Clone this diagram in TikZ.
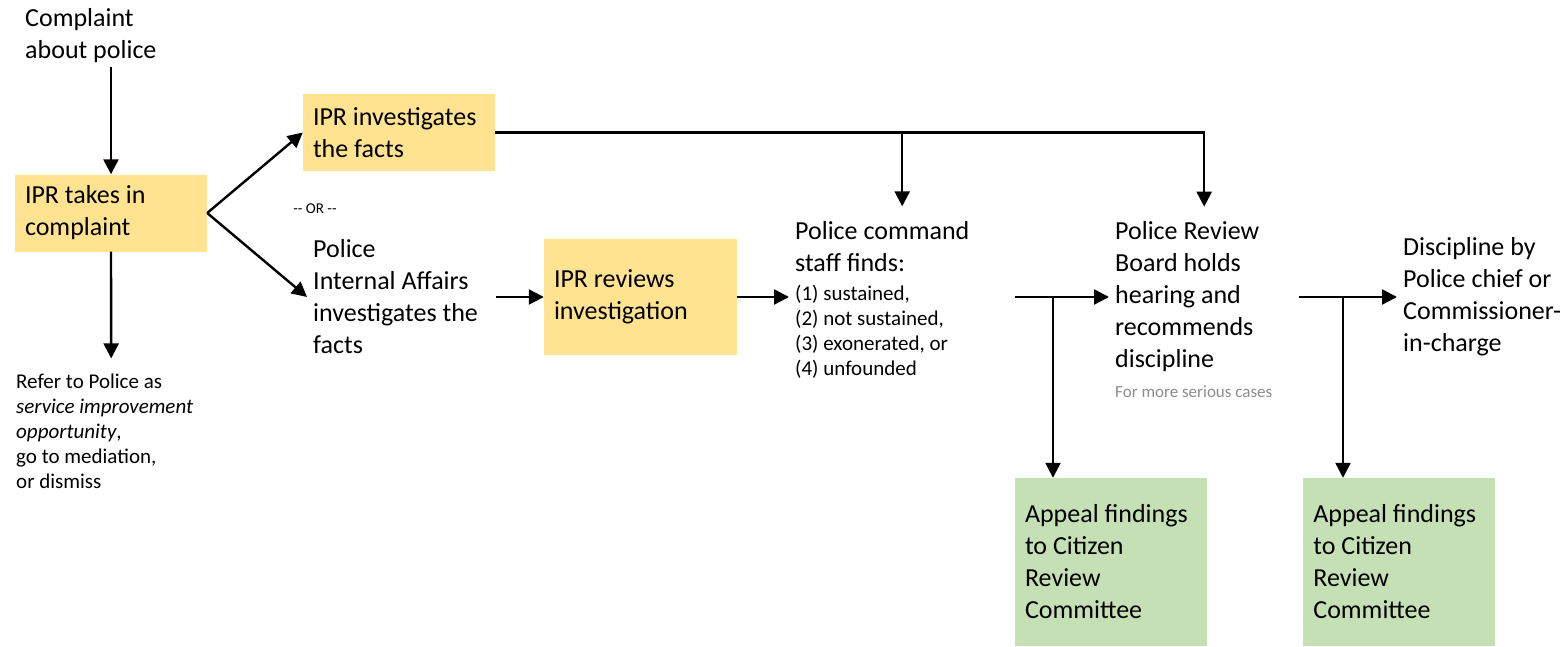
\documentclass[tikz,border=0pt]{standalone}
\usepackage{fontspec}
\setmainfont{Carlito}
\usepackage{xcolor}
\usetikzlibrary{positioning,arrows.meta}
\definecolor{iprfill}{HTML}{FFE391}
\definecolor{appealfill}{HTML}{C5E0B4}
\definecolor{notegray}{HTML}{8C8C8C}
\newcommand{\bigf}{\fontsize{26}{32}\selectfont}
\newcommand{\smallf}{\fontsize{21}{25}\selectfont}
\newcommand{\notef}{\fontsize{17}{20}\selectfont}
\newcommand{\orf}{\fontsize{15}{18}\selectfont}

\begin{document}
\begin{tikzpicture}[x=1pt,y=-1pt,
    flow/.style={draw,line width=2.4pt,-{Triangle[length=15pt,width=15pt]}},
    txt/.style={align=flush left,inner xsep=6pt,inner ysep=15pt,font=\bigf},
    iprbox/.style={fill=iprfill,align=flush left,text width=172pt,inner xsep=10pt,minimum height=77pt,font=\bigf},
    appealbox/.style={fill=appealfill,align=flush left,text width=172pt,inner xsep=10pt,minimum height=168pt,font=\bigf}]
    \useasboundingbox (0,0) rectangle (1567,646);
    % intake
    \node[txt,inner ysep=4pt,text width=172pt,anchor=west] (complaint) at (19,36) {Complaint\\about police};
    \node[iprbox] (intake) at (111,213) {IPR takes in\\complaint};
    \node[txt,text width=190pt,anchor=west,font=\smallf] (refer) at (10,431)
      {Refer to Police as\\\textit{service improvement}\\\textit{opportunity},\\go to mediation,\\or dismiss};
    % two ways to investigate
    \node[iprbox] (iprinv) at (399,132.5) {IPR investigates\\the facts};
    \node[font=\orf,inner sep=0pt] (ortext) at (315,209) {-\kern0pt- OR -\kern0pt-};
    \node[txt,text width=177pt,anchor=west] (iainv) at (307,297) {Police\\Internal Affairs\\investigates the\\facts};
    \node[iprbox,text width=173pt,minimum height=116pt] (iprrev) at (640.5,297) {IPR reviews\\investigation};
    % findings and discipline
    \node[txt,text width=214pt,anchor=west] (findings) at (789,300)
      {Police command\\staff finds:\par\vspace{4pt}\smallf (1) sustained,\\(2) not sustained,\\(3) exonerated, or\\(4) unfounded\par};
    \node[txt,text width=178pt,anchor=west] (prb) at (1109,297) {Police Review\\Board holds\\hearing and\\recommends\\discipline};
    \node[anchor=west,inner sep=0pt,font=\notef,text=notegray] (prbnote) at (1115,392) {For more serious cases};
    \node[txt,text width=160pt,anchor=west] (discipline) at (1397,297) {Discipline by\\Police chief or\\Commissioner-\\in-charge};
    % appeals
    \node[appealbox] (appeal1) at (1111,562) {Appeal findings\\to Citizen\\Review\\Committee};
    \node[appealbox,right=96pt of appeal1] (appeal2) {Appeal findings\\to Citizen\\Review\\Committee};
    \coordinate (fork1) at (1053,297);
    \coordinate (fork2) at (1343,297);

    \draw[flow] (intake.north |- complaint.south) -- (intake.north);
    \draw[flow] (intake.south) -- (refer.north);
    \draw[flow] (intake.east) -- (iprinv.west);
    \draw[flow] (intake.east) -- (iainv.west);
    \draw[flow] (iainv.east) -- (iprrev.west);
    \draw[flow] (iprrev.east) -- (findings.west |- iprrev.east);
    \draw[flow] (iprinv.east) -| (prb.north);
    \draw[flow] (iprinv.east -| findings.north) -- (findings.north);
    \draw[flow] (findings.east |- prb.west) -- (prb.west);
    \draw[flow] (prb.east) -- (discipline.west);
    \draw[flow] (fork1) -- (fork1 |- appeal1.north);
    \draw[flow] (fork2) -- (fork2 |- appeal2.north);
\end{tikzpicture}
\end{document}
